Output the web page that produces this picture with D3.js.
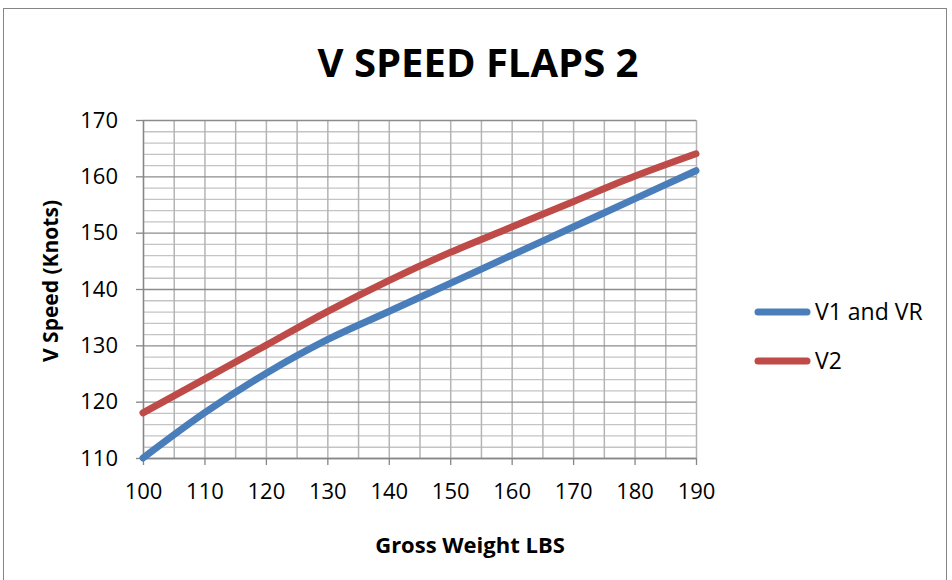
<!DOCTYPE html>
<html>
<head>
<meta charset="utf-8">
<script src="https://cdn.jsdelivr.net/npm/d3@7"></script>
<style>
    body { margin: 0; background: #fff; }
    svg text { font-family: "Open Sans", sans-serif; fill: #000; }
</style>
</head>
<body>
<div id="chart"></div>
<script>
// Gross weight (x) and the two speed series
const weights = [100, 110, 120, 130, 140, 150, 160, 170, 180, 190];
const v1vr    = [110, 118, 125, 131, 136, 141, 146, 151, 156, 161];
const v2      = [118, 124, 130, 136, 141.5, 146.5, 151, 155.5, 160, 164];

const seriesNames  = ["V1 and VR", "V2"];
const seriesColors = ["#4a7ebb", "#be4b48"];

const xTicks      = [100, 110, 120, 130, 140, 150, 160, 170, 180, 190];
const xGridValues = [100, 105, 110, 115, 120, 125, 130, 135, 140, 145, 150, 155, 160, 165, 170, 175, 180, 185, 190];
const yTicks      = [110, 120, 130, 140, 150, 160, 170];
const yMinorTicks = [112, 114, 116, 118, 122, 124, 126, 128, 132, 134, 136, 138, 142, 144, 146, 148, 152, 154, 156, 158, 162, 164, 166, 168];

const W = 952, H = 580;
const margin = { top: 120, right: 256, bottom: 122, left: 143 };
const width = W - margin.left - margin.right;
const height = H - margin.top - margin.bottom;

const svg = d3.select("#chart").append("svg")
    .attr("width", W)
    .attr("height", H);

// chart frame
svg.append("rect")
    .attr("x", 3.5).attr("y", 8.5)
    .attr("width", 943).attr("height", 620)
    .attr("fill", "none")
    .attr("stroke", "#868686")
    .attr("stroke-width", 1);

svg.append("text")
    .attr("x", 478).attr("y", 77)
    .attr("text-anchor", "middle")
    .style("font-size", "40px")
    .style("font-weight", "bold")
    .text("V SPEED FLAPS 2");

const g = svg.append("g").attr("transform", `translate(${margin.left},${margin.top})`);

const x = d3.scaleLinear().domain([100, 190]).range([0, width]);
const y = d3.scaleLinear().domain([110, 170]).range([height, 0]);

// minor horizontal grid
g.append("g")
    .call(d3.axisLeft(y).tickValues(yMinorTicks).tickSize(-width).tickFormat(""))
    .call(s => s.select(".domain").remove())
    .call(s => s.selectAll("line").attr("stroke", "#c4c4c4").attr("stroke-width", 1.3));

// vertical grid
g.append("g")
    .attr("transform", `translate(0,${height})`)
    .call(d3.axisBottom(x).tickValues(xGridValues).tickSize(-height).tickFormat(""))
    .call(s => s.select(".domain").remove())
    .call(s => s.selectAll("line").attr("stroke", "#b4b4b4").attr("stroke-width", 1.5));

// major horizontal grid
g.append("g")
    .call(d3.axisLeft(y).tickValues(yTicks).tickSize(-width).tickFormat(""))
    .call(s => s.select(".domain").remove())
    .call(s => s.selectAll("line").attr("stroke", "#8c8c8c").attr("stroke-width", 1.3));

// axes
g.append("g")
    .call(d3.axisLeft(y).tickValues(yTicks).tickSize(7).tickSizeOuter(0).tickPadding(18))
    .call(s => s.select(".domain").attr("stroke", "#868686").attr("stroke-width", 1.3))
    .call(s => s.selectAll("line").attr("stroke", "#868686").attr("stroke-width", 1.3))
    .call(s => s.selectAll("text").style("font-size", "22px").attr("font-family", null));

g.append("g")
    .attr("transform", `translate(0,${height})`)
    .call(d3.axisBottom(x).tickValues(xTicks).tickSize(7).tickSizeOuter(0).tickPadding(18))
    .call(s => s.select(".domain").attr("stroke", "#868686").attr("stroke-width", 1.3))
    .call(s => s.selectAll("line").attr("stroke", "#868686").attr("stroke-width", 1.3))
    .call(s => s.selectAll("text").style("font-size", "22px").attr("font-family", null));

// series lines
const line = d3.line()
    .x(d => x(d[0]))
    .y(d => y(d[1]))
    .curve(d3.curveCatmullRom.alpha(0.5));

[v1vr, v2].forEach((vals, i) => {
    g.append("path")
        .datum(weights.map((w, j) => [w, vals[j]]))
        .attr("fill", "none")
        .attr("stroke", seriesColors[i])
        .attr("stroke-width", 7)
        .attr("stroke-linecap", "round")
        .attr("stroke-linejoin", "round")
        .attr("d", line);
});

// axis titles
svg.append("text")
    .attr("x", 470).attr("y", 553)
    .attr("text-anchor", "middle")
    .style("font-size", "22px")
    .style("font-weight", "bold")
    .text("Gross Weight LBS");

svg.append("text")
    .attr("transform", "translate(58,281) rotate(-90)")
    .attr("text-anchor", "middle")
    .style("font-size", "21px")
    .style("font-weight", "bold")
    .text("V Speed (Knots)");

// legend
const legend = svg.append("g").attr("transform", "translate(758,312)");
seriesNames.forEach((name, i) => {
    const row = legend.append("g").attr("transform", `translate(0,${i * 49})`);
    row.append("line")
        .attr("x1", 0).attr("x2", 49)
        .attr("stroke", seriesColors[i])
        .attr("stroke-width", 7)
        .attr("stroke-linecap", "round");
    row.append("text")
        .attr("x", 57)
        .attr("dy", "0.35em")
        .style("font-size", "23px")
        .text(name);
});
</script>
</body>
</html>
